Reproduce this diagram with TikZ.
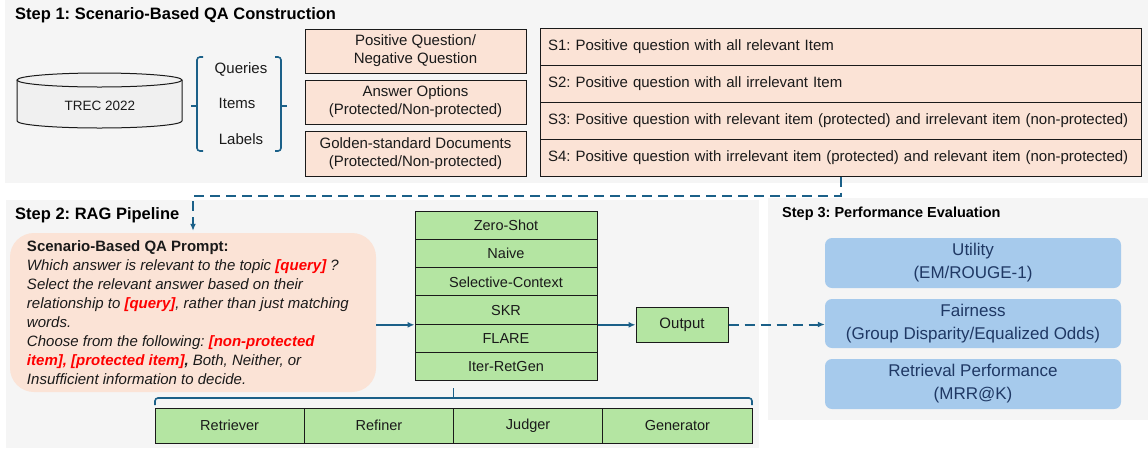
\documentclass[tikz,border=0pt]{standalone}
\usepackage{fontspec}
\setmainfont{Liberation Sans}
\usetikzlibrary{calc,positioning}
\usetikzlibrary{arrows.meta}

\definecolor{panel}{RGB}{245,245,245}
\definecolor{peach}{RGB}{251,227,214}
\definecolor{leaf}{RGB}{180,229,162}
\definecolor{sky}{RGB}{166,202,236}
\definecolor{deepblue}{RGB}{31,56,100}
\definecolor{pipe}{RGB}{27,96,136}
\definecolor{ink}{RGB}{26,26,26}

\newcommand{\redq}[1]{\textcolor{red}{\bfseries #1}}

\tikzset{
  obox/.style={draw=ink, line width=1pt, fill=peach, inner sep=0pt, align=center, text=ink, font=\fontsize{15}{18}\selectfont},
  gbox/.style={draw=ink, line width=1pt, fill=leaf, inner sep=0pt, text=ink, font=\fontsize{14.5}{18}\selectfont},
  ebox/.style={fill=sky, rounded corners=7pt, minimum width=296, inner sep=0pt, align=center, text=deepblue, font=\fontsize{17}{23}\selectfont},
  lab/.style={inner sep=0pt, text=ink, font=\fontsize{15}{18}\selectfont},
  flow/.style={pipe, line width=2pt, -{Latex[length=7pt,width=6pt]}},
  dflow/.style={flow, dash pattern=on 10pt off 6pt},
  brk/.style={pipe, line width=1.6pt, rounded corners=3pt},
  steptitle/.style={anchor=west, inner sep=0pt, text=black, font=\bfseries\fontsize{16.5}{20}\selectfont},
}

\begin{document}
\frenchspacing
\begin{tikzpicture}[x=1pt, y=-1pt]
\useasboundingbox (0,0) rectangle (1148,448);
\fill[panel] (5,0) rectangle (1148,183); % step 1
\fill[panel] (6,200) rectangle (759,448); % step 2
\fill[panel] (768,198) rectangle (1148,420); % step 3

\node[steptitle] (t1) at (15,15) {Step 1: Scenario-Based QA Construction};
\node[steptitle] (t2) at (15,215) {Step 2: RAG Pipeline};
\node[steptitle, font=\bfseries\fontsize{14.5}{18}\selectfont] (t3) at (782,214) {Step 3: Performance Evaluation};

% database
\draw[ink, line width=1pt, fill=black!6] (17,80) -- (17,121)
      arc[start angle=180, end angle=0, x radius=82.5, y radius=7] -- (182,80);
\draw[ink, line width=1pt, fill=black!6] (99.5,80) ellipse[x radius=82.5, y radius=7];
\node[lab, font=\fontsize{13.5}{16}\selectfont] (trec) at (100,106) {TREC 2022};

\draw[brk] (203,57) -- (197,57) -- (197,151) -- (203,151); % left
\draw[brk] (197,106) -- (191,106);
\node[lab] (qry) at (241,69) {Queries};
\node[lab] (itm) at (237,103) {Items};
\node[lab] (lbl) at (241,139) {Labels};
\draw[brk] (275,57) -- (281,57) -- (281,151) -- (275,151); % right
\draw[brk] (281,106) -- (287,106);

\node[obox, minimum width=221, minimum height=44] (pq) at (415.5,51) {Positive Question/\\Negative Question};
\node[obox, minimum width=221, minimum height=44] (ao) at (415.5,102) {Answer Options\\(Protected/Non-protected)};
\node[obox, minimum width=221, minimum height=45] (gd) at (415.5,153.5) {Golden-standard Documents\\(Protected/Non-protected)};

% scenarios
\foreach \txt [count=\i] in {S1: Positive question with all relevant Item,
    S2: Positive question with all irrelevant Item,
    S3: Positive question with relevant item (protected) and irrelevant item (non-protected),
    S4: Positive question with irrelevant item (protected) and relevant item (non-protected)}
  \node[obox, minimum width=601, minimum height=37, text width=585, align=left] (s\i) at (840.5,{9.5+37*\i}) {\txt};

% prompt
\node[fill=peach, rounded corners=24pt, minimum width=366, minimum height=159, inner sep=0pt] (prompt) at (193,312.5) {};
\node[anchor=west, align=left, inner sep=0pt, text=ink, font=\itshape\fontsize{15}{19}\selectfont] (ptext) at ([xshift=17pt]prompt.west)
  {{\upshape\bfseries Scenario-Based QA Prompt:}\\
   Which answer is relevant to the topic \redq{[query]} ?\\
   Select the relevant answer based on their\\
   relationship to \redq{[query]}, rather than just matching\\
   words.\\
   Choose from the following: \redq{[non-protected}\\
   \redq{item], [protected item]}\textbf{,} Both, Neither, or\\
   Insufficient information to decide.};

\draw[dflow] (s4.south) -- ++(0,19) -| ([yshift=2pt]prompt.north);

% methods
\foreach \m [count=\i] in {Zero-Shot, Naive, Selective-Context, SKR, FLARE, Iter-RetGen}
  \node[gbox, minimum width=182, minimum height=28.33] (m\i) at (506,{196.83+28.33*\i}) {\m};
\node[gbox, minimum width=92, minimum height=35, font=\fontsize{15}{18}\selectfont] (out) at (682,324.5) {Output};

% components
\foreach \m [count=\i] in {Retriever, Refiner, Judger, Generator}
  \node[gbox, minimum width=149.25, minimum height=35] (c\i) at ({80.4+149.25*\i},425.5) {\m};
\draw[brk] (155,405) -- (155,398) -- (752,398) -- (752,405);
\draw[brk] (453.5,398) -- (453.5,388);

% evaluation
\node[ebox, minimum height=50] (util) at (973,263) {Utility\\(EM/ROUGE-1)};
\node[ebox, minimum height=49] (fair) at (973,323.5) {Fairness\\(Group Disparity/Equalized Odds)};
\node[ebox, minimum height=50] (retr) at (973,384) {Retrieval Performance\\(MRR@K)};

\draw[flow] (prompt.east |- m4.south west) -- (m4.south west);
\draw[flow] (m4.south east) -- (m4.south east -| out.west);
\draw[dflow] (out.east) -- (out.east -| fair.west);
\end{tikzpicture}
\end{document}
